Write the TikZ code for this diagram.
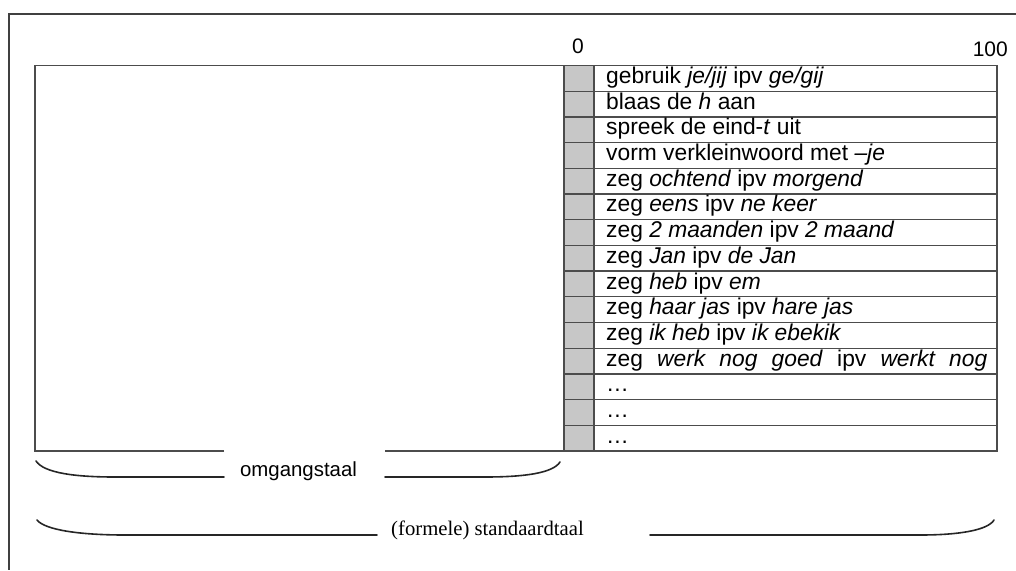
\documentclass[tikz,border=0pt]{standalone}
\usepackage{fontspec}
\setmainfont{Liberation Sans}
\newfontfamily\timesfont{Liberation Serif}

\begin{document}
\begin{tikzpicture}[x=1pt,y=-1pt,
  outerframe/.style={draw=black!75,line width=1.6pt},
  tablines/.style={draw=black!70,line width=1.3pt},
  rowtext/.style={anchor=base west,inner sep=0pt,font=\fontsize{22.8}{25}\selectfont},
  sidetext/.style={anchor=base,inner sep=0pt,font=\fontsize{20.4}{24}\selectfont},
  brace/.style={draw=black!85,line width=1.6pt,line cap=round}]
\useasboundingbox (0,0) rectangle (1016,570);
\draw[outerframe] (1016,14) -- (9,14) -- (9,570);

% linker vak, onderrand onderbroken
\draw[tablines] (224,451) -- (35,451) -- (35,65.5) -- (564,65.5);
\draw[tablines] (385,451) -- (564,451);

% tabel met kenmerken
\fill[black!22] (564,65.5) rectangle (594,451);
\foreach \i in {1,...,14}
  \draw[tablines] (564,65.5+25.7*\i) -- (997,65.5+25.7*\i);
\draw[tablines] (594,65.5) -- (594,451);
\draw[tablines] (564,65.5) rectangle (997,451);

\foreach \t [count=\i, evaluate=\i as \yb using 65.5+25.7*\i-7.8] in {
  {gebruik \textit{je/jij} ipv \textit{ge/gij}},
  {blaas de \textit{h} aan},
  {spreek de eind-\textit{t} uit},
  {vorm verkleinwoord met \textit{–je}},
  {zeg \textit{ochtend} ipv \textit{morgend}},
  {zeg \textit{eens} ipv \textit{ne keer}},
  {zeg \textit{2 maanden} ipv \textit{2 maand}},
  {zeg \textit{Jan} ipv \textit{de Jan}},
  {zeg \textit{heb} ipv \textit{em}},
  {zeg \textit{haar jas} ipv \textit{hare jas}},
  {zeg \textit{ik heb} ipv \textit{ik ebekik}},
  {\makebox[381pt][s]{zeg \textit{werk nog goed} ipv \textit{werkt nog}}},
  {…}, {…}, {…}}
  \node[rowtext] (r\i) at (606,\yb) {\t};

\node[sidetext,anchor=center,font=\fontsize{21}{24}\selectfont] (zero) at (578,46.5) {0};
\node[sidetext,anchor=east,font=\fontsize{21}{24}\selectfont] (hundred) at (1008,49.5) {100};

% accolades
\node[sidetext] (omg) at (298.5,476.5) {omgangstaal};
\draw[brace] (36,461) .. controls (44,473) and (75,477) .. (115,477) -- (224,477);
\draw[brace] (385,477) -- (485,477) .. controls (525,477) and (553,473) .. (560,462);

\node[sidetext,font=\timesfont\fontsize{20.7}{24}\selectfont] (std) at (487.5,535.5) {(formele) standaardtaal};
\draw[brace] (37,520) .. controls (45,530) and (80,535) .. (125,535) -- (377,535);
\draw[brace] (650,535) -- (920,535) .. controls (960,535) and (988,530) .. (994,520);
\end{tikzpicture}
\end{document}
